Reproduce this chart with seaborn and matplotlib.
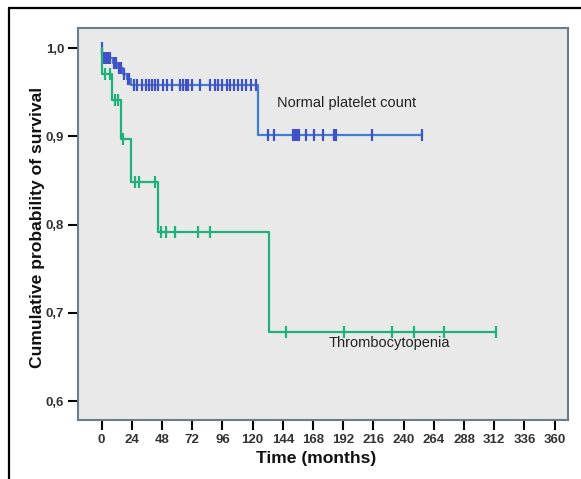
import numpy as np
import matplotlib
matplotlib.use("Agg")
import matplotlib.pyplot as plt
from matplotlib.lines import Line2D
from matplotlib.ticker import FuncFormatter
import seaborn as sns

sns.set_theme(style="white")
plt.rcParams["font.family"] = ["Liberation Sans", "DejaVu Sans"]

# Kaplan-Meier step curves (time in months, cumulative survival)
normal_time = [0, 0.5, 9, 13, 17, 20, 23.5, 124, 254.5]
normal_surv = [1.0, 0.989, 0.983, 0.977, 0.971, 0.965, 0.958, 0.901, 0.901]
thrombo_time = [0, 0.3, 8, 15.4, 23.3, 45, 133, 313.5]
thrombo_surv = [1.0, 0.971, 0.941, 0.897, 0.848, 0.792, 0.678, 0.678]

# censored observations (months)
normal_censored = [0, 1, 2.5, 4, 5.5, 7, 10, 11.5, 14, 15.5, 18, 21, 22,
                   25.7, 28, 32, 35, 37.6, 40, 42, 45, 49, 52, 56, 62, 64.6,
                   67, 69, 72, 78, 86, 90, 92.5, 95.6, 99.6, 102, 105, 108,
                   111.5, 115, 118.6, 122.6,
                   132, 137, 152, 153.7, 155, 157, 162, 169, 176, 184.6, 186,
                   215, 254.5]
thrombo_censored = [2.6, 6.6, 10.6, 13, 17, 26.5, 29.6, 42.4, 47, 51, 58,
                    76.5, 86, 146.5, 192.6, 230.7, 248, 272, 313.5]

x_ticks = list(range(0, 361, 24))
y_ticks = [0.6, 0.7, 0.8, 0.9, 1.0]

BLUE = "#3f7fd2"
BLUE_MARK = "#4150c4"
GREEN = "#1fb07c"


def step_value(times, surv, t):
    idx = np.searchsorted(times, t, side="right") - 1
    return np.asarray(surv)[idx]


fig = plt.figure(figsize=(5.81, 4.79), dpi=100)
fig.patch.set_facecolor("white")
ax = fig.add_axes([78 / 581, 1 - 420 / 479, 490 / 581, 392 / 479])
ax.set_facecolor("#e9e9e9")

for times, surv, cens, line_c, mark_c in [
    (normal_time, normal_surv, normal_censored, BLUE, BLUE_MARK),
    (thrombo_time, thrombo_surv, thrombo_censored, GREEN, GREEN),
]:
    sns.lineplot(x=times, y=surv, ax=ax, color=line_c, linewidth=1.6,
                 drawstyle="steps-post", estimator=None, sort=False)
    cy = step_value(times, surv, cens)
    ax.plot(cens, cy, linestyle="none", marker="|", markersize=8,
            markeredgewidth=1.6, color=mark_c)

ax.text(139.5, 0.938, "Normal platelet count", fontsize=10.5, color="#222222",
        va="center", ha="left")
ax.text(180, 0.666, "Thrombocytopenia", fontsize=10.5, color="#222222",
        va="center", ha="left")

ax.set_xlim(-18.8, 370.6)
ax.set_ylim(0.5785, 1.0227)
ax.set_xticks(x_ticks)
ax.set_yticks(y_ticks)
ax.yaxis.set_major_formatter(FuncFormatter(lambda v, p: f"{v:.1f}".replace(".", ",")))
ax.tick_params(axis="both", direction="out", length=7, width=1.5, color="black",
               labelsize=9.5, labelcolor="#333333", pad=3, left=True, bottom=True)
for lab in ax.get_xticklabels() + ax.get_yticklabels():
    lab.set_fontweight("bold")

for s in ax.spines.values():
    s.set_color("#6e7c8a")
    s.set_linewidth(1.5)

ax.set_xlabel("Time (months)", fontsize=12.6, fontweight="bold", color="#111111")
ax.set_ylabel("Cumulative probability of survival", fontsize=12.6,
              fontweight="bold", color="#111111")
ax.xaxis.set_label_coords(0.485, -0.08)
ax.yaxis.set_label_coords(-0.068, 0.49)

# outer frame (left and top edges)
fig.add_artist(Line2D([9 / 581, 9 / 581], [0, 1 - 8 / 479], color="black",
                      linewidth=1.6, transform=fig.transFigure))
fig.add_artist(Line2D([9 / 581, 1], [1 - 8 / 479, 1 - 8 / 479], color="black",
                      linewidth=1.6, transform=fig.transFigure))

fig.savefig("out.png", dpi=100)
